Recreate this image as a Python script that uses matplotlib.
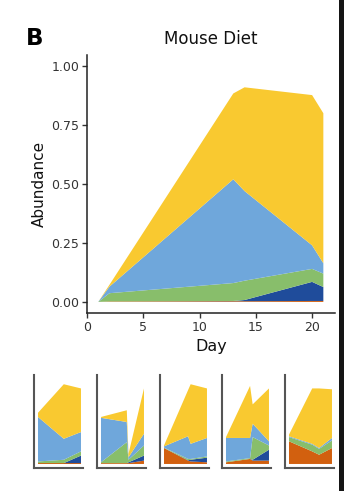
import matplotlib
matplotlib.use("Agg")
import matplotlib.pyplot as plt
from matplotlib.patches import Rectangle

plt.rcParams['font.family'] = ['DejaVu Sans']

# ---- data: main chart (layers bottom -> top) ----
days = [1, 2, 13, 14, 20, 21]
orange = [0, 0.002, 0.003, 0.003, 0.004, 0.004]
dark_blue = [0, 0, 0.001, 0.005, 0.081, 0.059]
green = [0, 0.035, 0.076, 0.082, 0.055, 0.057]
light_blue = [0, 0.028, 0.44, 0.38, 0.10, 0.044]
yellow = [0, 0.008, 0.364, 0.44, 0.637, 0.636]

y_ticks = [0.00, 0.25, 0.50, 0.75, 1.00]
x_ticks = [0, 5, 10, 15, 20]

# ---- data: small panels (relative time, layers bottom -> top) ----
p1_x = [0, 0.6, 1]
p1_orange = [0.01, 0.01, 0.01]
p1_dark_blue = [0, 0, 0.09]
p1_green = [0.02, 0.04, 0.05]
p1_light_blue = [0.53, 0.25, 0.23]
p1_yellow = [0.05, 0.65, 0.52]

p2_x = [0, 0.6, 0.64, 1]
p2_orange = [0.01, 0.01, 0.01, 0.04]
p2_dark_blue = [0, 0, 0.01, 0.06]
p2_green = [0.01, 0.25, 0.03, 0.12]
p2_light_blue = [0.53, 0.24, 0.03, 0.14]
p2_yellow = [0.01, 0.14, 0.04, 0.54]

p3_x = [0, 0.56, 0.62, 1]
p3_orange = [0.19, 0.04, 0.03, 0.02]
p3_dark_blue = [0, 0.005, 0.02, 0.055]
p3_green = [0.005, 0.015, 0.01, 0.015]
p3_light_blue = [0.015, 0.27, 0.18, 0.22]
p3_yellow = [0.01, 0.55, 0.71, 0.59]

p4_x = [0, 0.56, 0.62, 1]
p4_orange = [0.02, 0.06, 0.04, 0.04]
p4_dark_blue = [0, 0, 0.01, 0.13]
p4_green = [0.01, 0.01, 0.27, 0.05]
p4_light_blue = [0.28, 0.24, 0.16, 0.05]
p4_yellow = [0.01, 0.62, 0.23, 0.63]

p5_x = [0, 0.54, 0.7, 1]
p5_orange = [0.27, 0.15, 0.11, 0.19]
p5_dark_blue = [0, 0, 0, 0]
p5_green = [0.05, 0.08, 0.07, 0.09]
p5_light_blue = [0.01, 0.01, 0.01, 0.03]
p5_yellow = [0.02, 0.66, 0.71, 0.58]

colors = ['#D2600F', '#1F4C9B', '#88BE6B', '#6FA7DB', '#F9C930']

W, H = 344, 491
fig = plt.figure(figsize=(W / 100, H / 100), dpi=100)

def fx(px):
    return px / W

def fy(py):
    return 1 - py / H

# main axes
ax = fig.add_axes([fx(87), fy(313), fx(334.6) - fx(87), fy(55) - fy(313)])
ax.stackplot(days, orange, dark_blue, green, light_blue, yellow,
             colors=colors, linewidth=0)
ax.set_xlim(0, 22)
ax.set_ylim(-0.047, 1.047)
ax.set_xticks(x_ticks)
ax.set_yticks(y_ticks)
ax.set_yticklabels([f"{v:.2f}" for v in y_ticks])
for s in ['top', 'right']:
    ax.spines[s].set_visible(False)
for s in ['left', 'bottom']:
    ax.spines[s].set_linewidth(1.1)
    ax.spines[s].set_color('#222222')
ax.tick_params(length=3.5, width=1.0, color='#333333', labelsize=9,
               labelcolor='#333333', pad=2)
ax.set_xlabel('Day', fontsize=11.5, labelpad=4, color='#111111')
ax.set_ylabel('Abundance', fontsize=11, labelpad=3, color='#111111')
ax.set_title('Mouse Diet', fontsize=12, pad=8, color='#111111')

fig.text(fx(26), fy(45), 'B', fontsize=16.5, fontweight='bold', ha='left', va='baseline')

# small panels
panels = [
    (p1_x, [p1_orange, p1_dark_blue, p1_green, p1_light_blue, p1_yellow]),
    (p2_x, [p2_orange, p2_dark_blue, p2_green, p2_light_blue, p2_yellow]),
    (p3_x, [p3_orange, p3_dark_blue, p3_green, p3_light_blue, p3_yellow]),
    (p4_x, [p4_orange, p4_dark_blue, p4_green, p4_light_blue, p4_yellow]),
    (p5_x, [p5_orange, p5_dark_blue, p5_green, p5_light_blue, p5_yellow]),
]
lefts = [34, 97, 160, 222, 285]
for left, (px_, layers) in zip(lefts, panels):
    a = fig.add_axes([fx(left), fy(468), fx(49), fy(375) - fy(468)])
    a.stackplot(px_, *layers, colors=colors, linewidth=0)
    a.set_xlim(-0.093, 1.047)
    a.set_ylim(-0.048, 1.06)
    a.set_xticks([])
    a.set_yticks([])
    for s in ['top', 'right']:
        a.spines[s].set_visible(False)
    for s in ['left', 'bottom']:
        a.spines[s].set_linewidth(1.5)
        a.spines[s].set_color('#555555')

# dark border on the right edge of the image
fig.patches.append(Rectangle((fx(339), 0), 1 - fx(339), 1, transform=fig.transFigure,
                             facecolor='#151515', edgecolor='none'))

fig.savefig('out.png', dpi=100)
